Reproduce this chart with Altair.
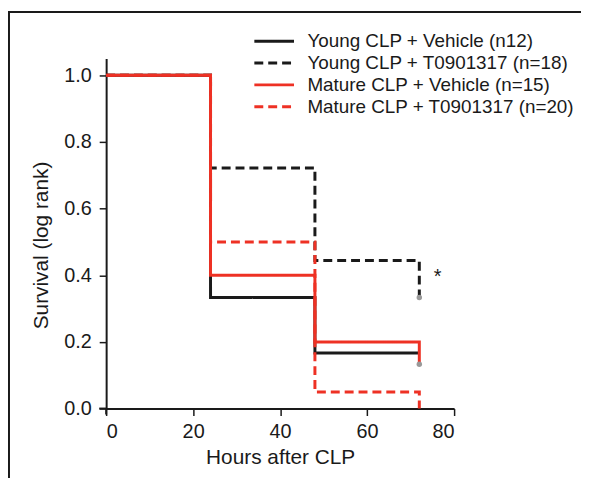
import altair as alt
import pandas as pd

series_names = [
    "Young CLP + Vehicle (n12)",
    "Young CLP + T0901317 (n=18)",
    "Mature CLP + Vehicle (n=15)",
    "Mature CLP + T0901317 (n=20)",
]
hours = [
    [0, 24, 48, 72],
    [0, 24, 48, 72, 72],
    [0, 24, 48, 72, 72],
    [0, 24, 48, 72, 72],
]
survival = [
    [1.0, 0.333, 0.1667, 0.1667],
    [1.0, 0.722, 0.444, 0.444, 0.333],
    [1.0, 0.4, 0.2, 0.2, 0.133],
    [1.0, 0.5, 0.05, 0.05, 0.0],
]
censor_hours = [72, 72]
censor_survival = [0.333, 0.133]
star_hours = [76.2]
star_survival = [0.395]

rows = []
for name, hs, ss in zip(series_names, hours, survival):
    for i, (h, s) in enumerate(zip(hs, ss)):
        rows.append({"series": name, "hours": h, "survival": s, "order": i})
df = pd.DataFrame(rows)
cens = pd.DataFrame({"hours": censor_hours, "survival": censor_survival})
star = pd.DataFrame({"hours": star_hours, "survival": star_survival, "t": ["*"]})

BLACK = "#1a1a1a"
RED = "#ee3124"
FONT = "Liberation Sans"

xs = alt.Scale(domain=[0, 80], nice=False, zero=False)
ys = alt.Scale(domain=[0, 1.05], nice=False, zero=False)

leg = dict(title=None, orient="none", legendX=160, legendY=-27,
           symbolType="M-4,0H4", symbolSize=100, symbolStrokeWidth=3,
           labelFontSize=19, labelFont=FONT, labelColor=BLACK, labelOffset=24,
           rowPadding=2, labelLimit=400)

lines = alt.Chart(df).mark_line(interpolate="step-after", strokeWidth=3, clip=False).encode(
    x=alt.X("hours:Q", scale=xs,
            axis=alt.Axis(values=[0, 20, 40, 60, 80], title="Hours after CLP", grid=False,
                          labelFontSize=20, titleFontSize=21, tickSize=7, tickWidth=1.5,
                          domainWidth=2, domainColor=BLACK, tickColor=BLACK,
                          labelColor=BLACK, titleColor=BLACK, labelPadding=6,
                          titlePadding=5, labelFont=FONT, titleFont=FONT,
                          titleFontWeight="normal", format="d")),
    y=alt.Y("survival:Q", scale=ys,
            axis=alt.Axis(values=[0, 0.2, 0.4, 0.6, 0.8, 1.0], title="Survival (log rank)",
                          grid=False, labelFontSize=20, titleFontSize=21, tickSize=7,
                          tickWidth=1.5, domainWidth=2, domainColor=BLACK, tickColor=BLACK,
                          labelColor=BLACK, titleColor=BLACK, labelPadding=8,
                          titlePadding=12, titleY=188, labelFont=FONT, titleFont=FONT,
                          titleFontWeight="normal", format=".1f")),
    color=alt.Color("series:N", scale=alt.Scale(domain=series_names,
                                                range=[BLACK, BLACK, RED, RED]),
                    legend=alt.Legend(**leg)),
    strokeDash=alt.StrokeDash("series:N",
                              scale=alt.Scale(domain=series_names,
                                              range=[[1, 0], [9, 5], [1, 0], [9, 5]]),
                              legend=alt.Legend(**leg)),
    order="order:Q",
)

dots = alt.Chart(cens).mark_circle(size=30, color="#999999", opacity=1).encode(
    x=alt.X("hours:Q", scale=xs), y=alt.Y("survival:Q", scale=ys))

stars = alt.Chart(star).mark_text(fontSize=20, font=FONT, color=BLACK).encode(
    x=alt.X("hours:Q", scale=xs), y=alt.Y("survival:Q", scale=ys), text="t:N")

stub = pd.DataFrame({"k": [0]})
xstub = alt.Chart(stub).mark_rule(color=BLACK, strokeWidth=2).encode(
    x=alt.value(-7), x2=alt.value(0), y=alt.value(353))
ystub = alt.Chart(stub).mark_rule(color=BLACK, strokeWidth=2).encode(
    x=alt.value(0), y=alt.value(353), y2=alt.value(359))
frame_top = alt.Chart(stub).mark_rule(color=BLACK, strokeWidth=2).encode(
    x=alt.value(-98), x2=alt.value(600), y=alt.value(-47))
frame_left = alt.Chart(stub).mark_rule(color=BLACK, strokeWidth=2).encode(
    x=alt.value(-98), y=alt.value(-48), y2=alt.value(600))

chart = alt.layer(frame_top, frame_left, lines, dots, stars, xstub, ystub).properties(
    width=351, height=353,
    autosize=alt.AutoSizeParams(type="none"),
    padding={"left": 99, "top": 49, "right": 128, "bottom": 68},
).configure(background="white").configure_view(stroke="transparent", strokeWidth=0)

chart.save("out.html", embed_options={"renderer": "svg", "actions": False})
